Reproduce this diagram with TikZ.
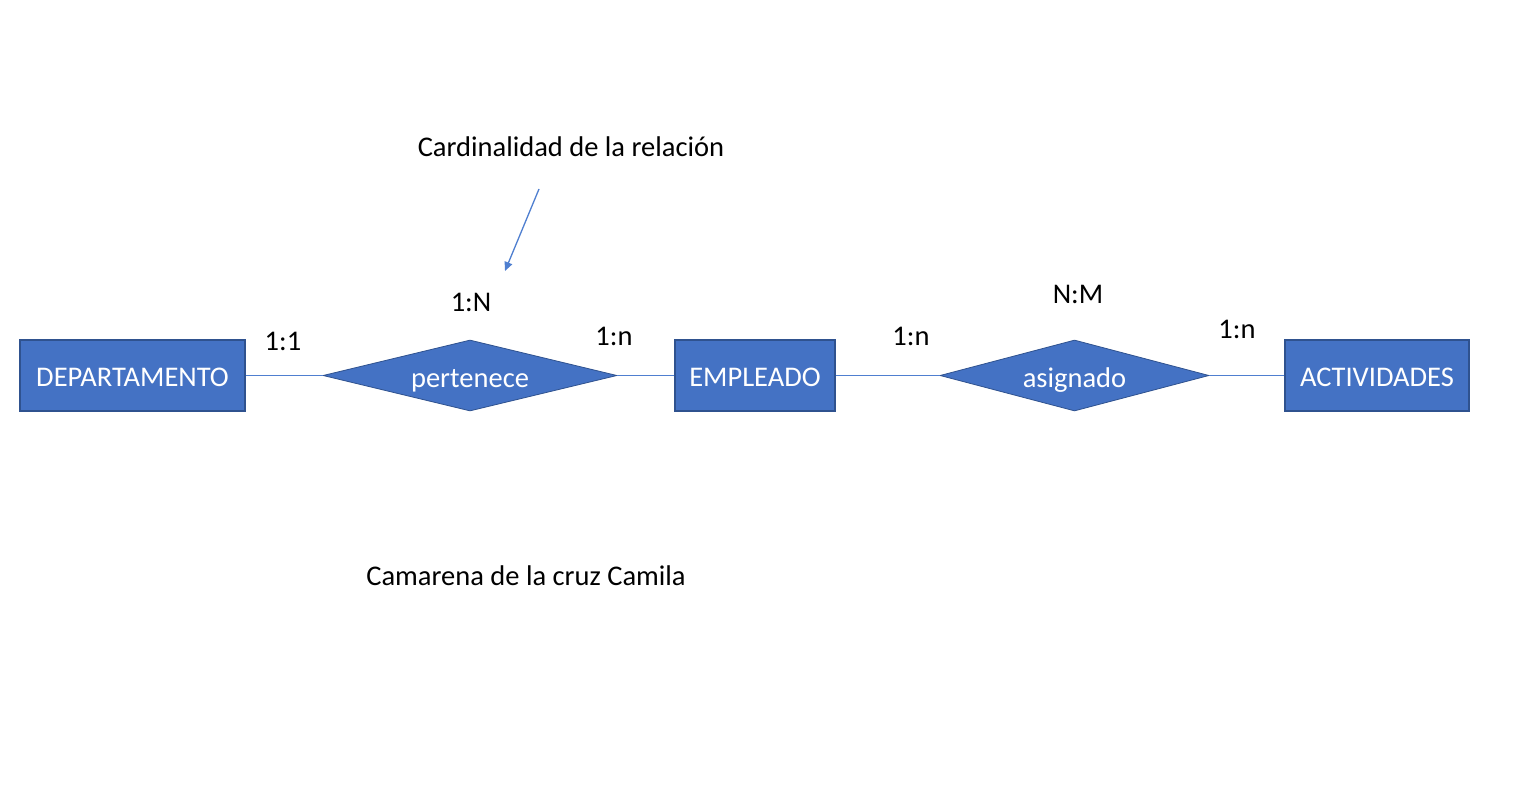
\documentclass[tikz,border=0pt]{standalone}
\usepackage{fontspec}
\setmainfont{Carlito}
\usetikzlibrary{shapes.geometric,arrows.meta}
\definecolor{erfill}{HTML}{4472C4}
\definecolor{erdraw}{HTML}{2F528F}
\definecolor{erline}{HTML}{4F7FD0}
\begin{document}
\begin{tikzpicture}[x=1pt,y=-1pt,
  entity/.style={draw=erdraw,fill=erfill,line width=1.2pt,text=white,minimum height=71pt,inner sep=0pt,text height=21pt,text depth=0pt,font=\fontsize{28.5}{32}\selectfont},
  relation/.style={draw=erdraw,fill=erfill,line width=0.8pt,text=white,diamond,aspect=4.1,minimum height=71pt,inner sep=0pt,text height=23pt,text depth=0pt,font=\fontsize{28.5}{32}\selectfont},
  conn/.style={draw=erline,line width=1.3pt},
  lbl/.style={text=black,inner sep=0pt,font=\fontsize{28.5}{32}\selectfont}]
\useasboundingbox[fill=white] (0,0) rectangle (1514,805);
\node[entity,minimum width=225pt] (dep) at (132.5,375.5) {DEPARTAMENTO};
\node[relation,minimum width=294pt] (per) at (470,375.5) {pertenece};
\node[entity,minimum width=160pt] (emp) at (755,375.5) {EMPLEADO};
\node[relation,minimum width=269pt] (asi) at (1074.5,375.5) {asignado};
\node[entity,minimum width=184pt] (act) at (1377,375.5) {ACTIVIDADES};
\draw[conn] (dep.east) -- (per.west);
\draw[conn] (per.east) -- (emp.west);
\draw[conn] (emp.east) -- (asi.west);
\draw[conn] (asi.east) -- (act.west);
\node[lbl] (l1) at (283,341) {1:1};
\node[lbl] (l2) at (471,302) {1:N};
\node[lbl] (l3) at (614,336) {1:n};
\node[lbl] (l4) at (911,336) {1:n};
\node[lbl] (l5) at (1078,294) {N:M};
\node[lbl] (l6) at (1237,329) {1:n};
\node[lbl] (card) at (571,147) {Cardinalidad de la relación};
\coordinate (a1) at (539,189);
\coordinate (a2) at (505,271);
\draw[conn,-{Triangle[length=9pt,width=8pt]}] (a1) -- (a2);
\node[lbl] (auth) at (526,576) {Camarena de la cruz Camila};
\end{tikzpicture}
\end{document}
